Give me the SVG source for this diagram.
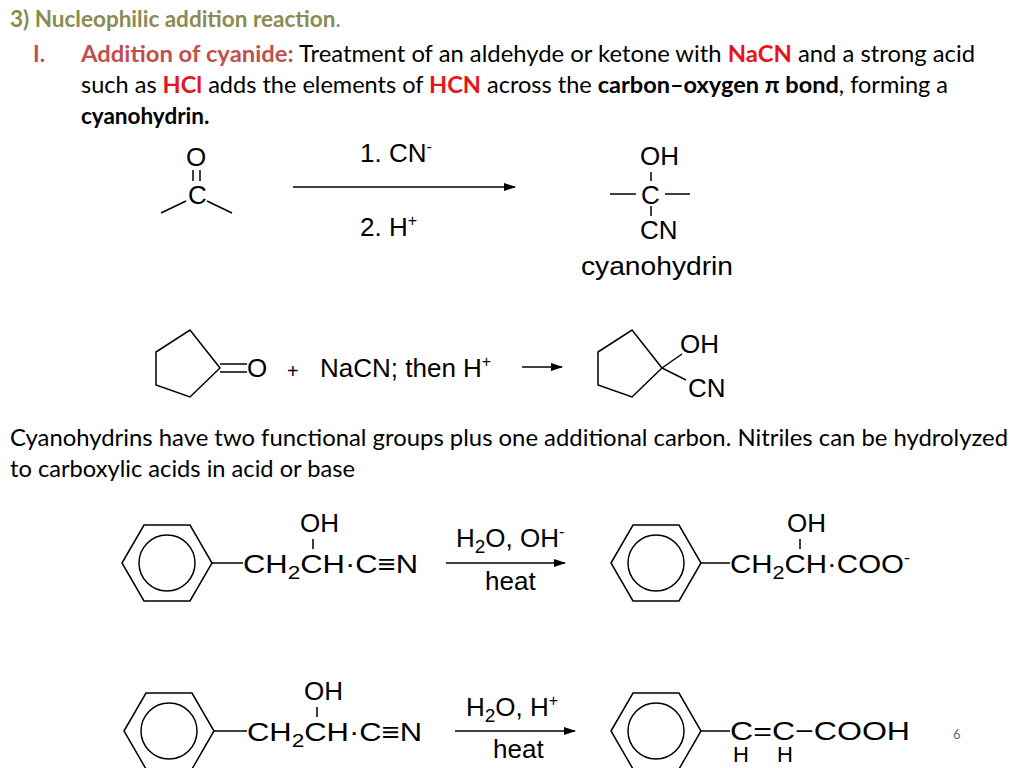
<svg xmlns="http://www.w3.org/2000/svg" width="1024" height="768" viewBox="0 0 1024 768">
<style>
.t{font-family:Lato,"Open Sans",sans-serif;font-size:22.5px;fill:#000}
.b{font-weight:bold}
.r{fill:#e8141c;font-weight:bold}
.c{font-family:"Liberation Sans",Arial,sans-serif;font-size:26px;fill:#000}
.s{font-size:16px}
.u{font-size:19px}
line,polygon,circle{stroke:#000;stroke-width:1.5;fill:none}
</style>
<defs>
<marker id="ah" markerWidth="12" markerHeight="8" refX="11" refY="4" orient="auto" markerUnits="userSpaceOnUse"><path d="M0,0L12,4L0,8z" fill="#000"/></marker>
<g id="bz"><polygon points="-45,0 -23,-38 23,-38 45,0 23,38 -23,38"/><circle r="28"/></g>
</defs>
<g id="header">
<text class="t b" x="10" y="27" style="fill:#8b8b52">3) Nucleophilic addition reaction<tspan style="font-weight:normal">.</tspan></text>
<text class="t b" x="33" y="62" style="fill:#c0504d">I.</text>
<text class="t" x="81" y="62" textLength="894" lengthAdjust="spacingAndGlyphs"><tspan class="b" style="fill:#c0504d">Addition of cyanide:</tspan> Treatment of an aldehyde or ketone with <tspan class="r">NaCN</tspan> and a strong acid</text>
<text class="t" x="81" y="93" textLength="867" lengthAdjust="spacingAndGlyphs">such as <tspan class="r">HCl</tspan> adds the elements of <tspan class="r">HCN</tspan> across the <tspan class="b">carbon–oxygen π bond</tspan>, forming a</text>
<text class="t b" x="81" y="124">cyanohydrin.</text>
<text class="t" x="10" y="446" textLength="998" lengthAdjust="spacingAndGlyphs">Cyanohydrins have two functional groups plus one additional carbon.  Nitriles can be hydrolyzed</text>
<text class="t" x="10" y="477" textLength="345" lengthAdjust="spacingAndGlyphs">to carboxylic acids in acid or base</text>
<text x="953" y="739" style="font-family:Lato,sans-serif;font-size:13px;fill:#666">6</text>
</g>
<g id="connectors">
<line x1="293" y1="187" x2="515" y2="187" marker-end="url(#ah)"/>
<line x1="522" y1="367" x2="562" y2="367" marker-end="url(#ah)"/>
<line x1="446" y1="563" x2="565" y2="563" marker-end="url(#ah)"/>
<line x1="455" y1="731" x2="575" y2="731" marker-end="url(#ah)"/>
</g>
<g id="r1">
<text class="c" x="186" y="166">O</text>
<line x1="193" y1="170" x2="193" y2="181"/><line x1="200" y1="170" x2="200" y2="181"/>
<text class="c" x="188" y="204">C</text>
<line x1="186" y1="201" x2="161" y2="213"/><line x1="207" y1="201" x2="232" y2="213"/>
<text class="c" x="360" y="162">1.  CN<tspan class="s" dy="-10">-</tspan></text>
<text class="c" x="360" y="236">2.  H<tspan class="s" dy="-10">+</tspan></text>
<text class="c" x="640" y="165">OH</text>
<line x1="651" y1="172" x2="651" y2="181"/>
<line x1="610" y1="194" x2="636" y2="194"/><line x1="665" y1="194" x2="690" y2="194"/>
<text class="c" x="641" y="204">C</text>
<line x1="651" y1="206" x2="651" y2="216"/>
<text class="c" x="640" y="239">CN</text>
<text class="c" x="581" y="275" textLength="152" lengthAdjust="spacingAndGlyphs">cyanohydrin</text>
</g>
<g id="r2">
<polygon points="156,352 190,330 220,368 190,397 156,385"/>
<line x1="220" y1="364" x2="247" y2="364"/><line x1="220" y1="372" x2="247" y2="372"/>
<text class="c" x="247" y="377">O</text>
<text class="c" x="287" y="378" style="font-size:20px">+</text>
<text class="c" x="320" y="377">NaCN; then H<tspan class="s" dy="-10">+</tspan></text>
<polygon points="598,352 632,330 662,368 632,397 598,385"/>
<line x1="662" y1="368" x2="682" y2="354"/><line x1="662" y1="368" x2="686" y2="380"/>
<text class="c" x="680" y="353">OH</text>
<text class="c" x="688" y="397">CN</text>
</g>
<g id="r3">
<use href="#bz" x="167" y="563"/>
<line x1="212" y1="563" x2="243" y2="563"/>
<text class="c" x="243" y="573" textLength="175" lengthAdjust="spacingAndGlyphs">CH<tspan class="u" dy="6">2</tspan><tspan dy="-6">CH·C≡N</tspan></text>
<text class="c" x="300" y="532">OH</text>
<line x1="313" y1="539" x2="313" y2="549"/>
<text class="c" x="456" y="547">H<tspan class="u" dy="6">2</tspan><tspan dy="-6">O, OH</tspan><tspan class="s" dy="-10">-</tspan></text>
<text class="c" x="485" y="590">heat</text>
<use href="#bz" x="656" y="563"/>
<line x1="701" y1="563" x2="730" y2="563"/>
<text class="c" x="730" y="573" textLength="180" lengthAdjust="spacingAndGlyphs">CH<tspan class="u" dy="6">2</tspan><tspan dy="-6">CH·COO</tspan><tspan class="s" dy="-10">-</tspan></text>
<text class="c" x="787" y="532">OH</text>
<line x1="800" y1="539" x2="800" y2="549"/>
</g>
<g id="r4">
<use href="#bz" x="169" y="731"/>
<line x1="214" y1="731" x2="247" y2="731"/>
<text class="c" x="247" y="741" textLength="175" lengthAdjust="spacingAndGlyphs">CH<tspan class="u" dy="6">2</tspan><tspan dy="-6">CH·C≡N</tspan></text>
<text class="c" x="304" y="700">OH</text>
<line x1="317" y1="707" x2="317" y2="717"/>
<text class="c" x="466" y="716">H<tspan class="u" dy="6">2</tspan><tspan dy="-6">O, H</tspan><tspan class="s" dy="-10">+</tspan></text>
<text class="c" x="493" y="758">heat</text>
<use href="#bz" x="656" y="731"/>
<line x1="701" y1="731" x2="730" y2="731"/>
<text class="c" x="730" y="740" textLength="180" lengthAdjust="spacingAndGlyphs">C=C−COOH</text>
<text class="c" x="733" y="762" style="font-size:22px">H</text>
<text class="c" x="777" y="762" style="font-size:22px">H</text>
</g>
</svg>
